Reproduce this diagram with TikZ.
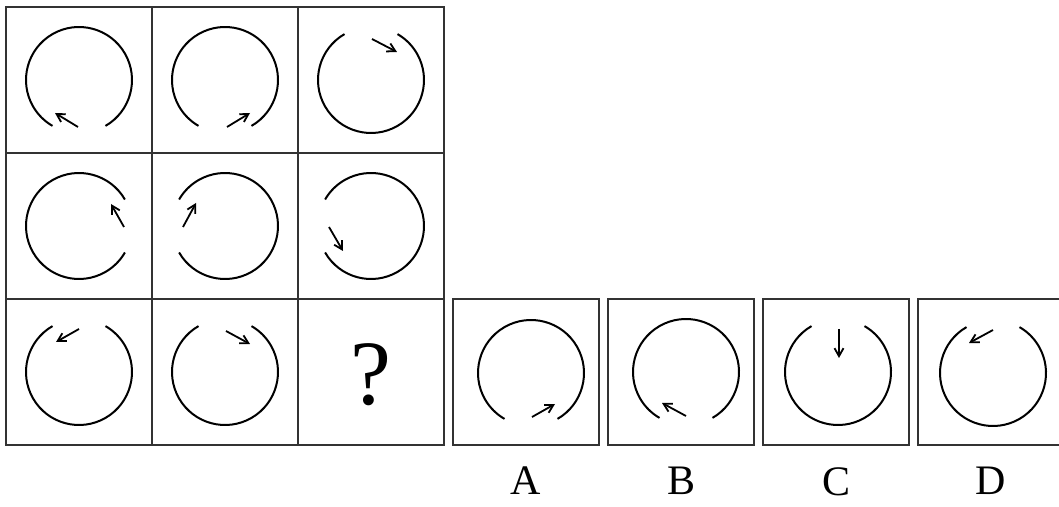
\documentclass[tikz,border=0pt]{standalone}
\usepackage{fontspec}
\setmainfont{Liberation Serif}
\usetikzlibrary{arrows.meta, positioning, calc}
\tikzset{
    cell/.style={draw=black!80, line width=1.3pt, minimum size=146pt,
                 inner sep=0pt, outer sep=0pt},
    ring/.style={line width=2pt},
    turn/.style={-{Straight Barb[length=8pt, width=9pt]}, line width=1.8pt},
    optlabel/.style={font=\fontsize{42}{42}\selectfont, inner sep=0pt},
    qmark/.style={font=\fontsize{92}{92}\selectfont, inner sep=0pt},
}

\begin{document}
\begin{tikzpicture}[x=1pt, y=1pt]
    \useasboundingbox (0,0) rectangle (1059,506);
    % 3x3 puzzle grid
    \node[cell] (c11) at (79,426) {};
    \node[cell, right=0pt of c11] (c12) {};
    \node[cell, right=0pt of c12] (c13) {};
    \node[cell, below=0pt of c11] (c21) {};
    \node[cell, right=0pt of c21] (c22) {};
    \node[cell, right=0pt of c22] (c23) {};
    \node[cell, below=0pt of c21] (c31) {};
    \node[cell, right=0pt of c31] (c32) {};
    \node[cell, right=0pt of c32] (c33) {};
    \node[qmark, yshift=-3pt] (q) at (c33) {?};
    % answer options
    \node[cell, right=9pt of c33] (oA) {};
    \node[cell, right=9pt of oA] (oB) {};
    \node[cell, right=9pt of oB] (oC) {};
    \node[cell, right=9pt of oC] (oD) {};
    \node[optlabel, below=22pt of oA] (lA) {A};
    \node[optlabel, below=22pt of oB] (lB) {B};
    \node[optlabel, below=22pt of oC] (lC) {C};
    \node[optlabel, below=22pt of oD] (lD) {D};
    \coordinate (kA) at ($(oA)+(5,-1)$);
    \coordinate (kB) at ($(oB)+(5,0)$);
    \coordinate (kC) at ($(oC)+(2,0)$);
    \coordinate (kD) at ($(oD)+(2,-1)$);
    % row 1
    \draw[ring] ($(c11)+(-60:53)$) arc[start angle=-60, end angle=240, radius=53];
    \draw[turn] ($(c11)+(-1,-47)$) -- ($(c11)+(-24,-33)$);
    \draw[ring] ($(c12)+(-60:53)$) arc[start angle=-60, end angle=240, radius=53];
    \draw[turn] ($(c12)+(2,-47)$) -- ($(c12)+(25,-33)$);
    \draw[ring] ($(c13)+(120:53)$) arc[start angle=120, end angle=420, radius=53];
    \draw[turn] ($(c13)+(1,41)$) -- ($(c13)+(26,28)$);
    % row 2
    \draw[ring] ($(c21)+(30:53)$) arc[start angle=30, end angle=330, radius=53];
    \draw[turn] ($(c21)+(45,-1)$) -- ($(c21)+(32,22)$);
    \draw[ring] ($(c22)+(-150:53)$) arc[start angle=-150, end angle=150, radius=53];
    \draw[turn] ($(c22)+(-42,-1)$) -- ($(c22)+(-29,23)$);
    \draw[ring] ($(c23)+(-150:53)$) arc[start angle=-150, end angle=150, radius=53];
    \draw[turn] ($(c23)+(-42,-1)$) -- ($(c23)+(-28,-25)$);
    % row 3
    \draw[ring] ($(c31)+(120:53)$) arc[start angle=120, end angle=420, radius=53];
    \draw[turn] ($(c31)+(0,43)$) -- ($(c31)+(-23,30)$);
    \draw[ring] ($(c32)+(120:53)$) arc[start angle=120, end angle=420, radius=53];
    \draw[turn] ($(c32)+(1,41)$) -- ($(c32)+(25,28)$);
    % options A--D
    \draw[ring] ($(kA)+(-60:53)$) arc[start angle=-60, end angle=240, radius=53];
    \draw[turn] ($(kA)+(1,-44)$) -- ($(kA)+(24,-31)$);
    \draw[ring] ($(kB)+(-60:53)$) arc[start angle=-60, end angle=240, radius=53];
    \draw[turn] ($(kB)+(0,-44)$) -- ($(kB)+(-24,-31)$);
    \draw[ring] ($(kC)+(120:53)$) arc[start angle=120, end angle=420, radius=53];
    \draw[turn] ($(kC)+(1,43)$) -- ($(kC)+(1,14)$);
    \draw[ring] ($(kD)+(120:53)$) arc[start angle=120, end angle=420, radius=53];
    \draw[turn] ($(kD)+(0,43)$) -- ($(kD)+(-24,30)$);
\end{tikzpicture}
\end{document}
